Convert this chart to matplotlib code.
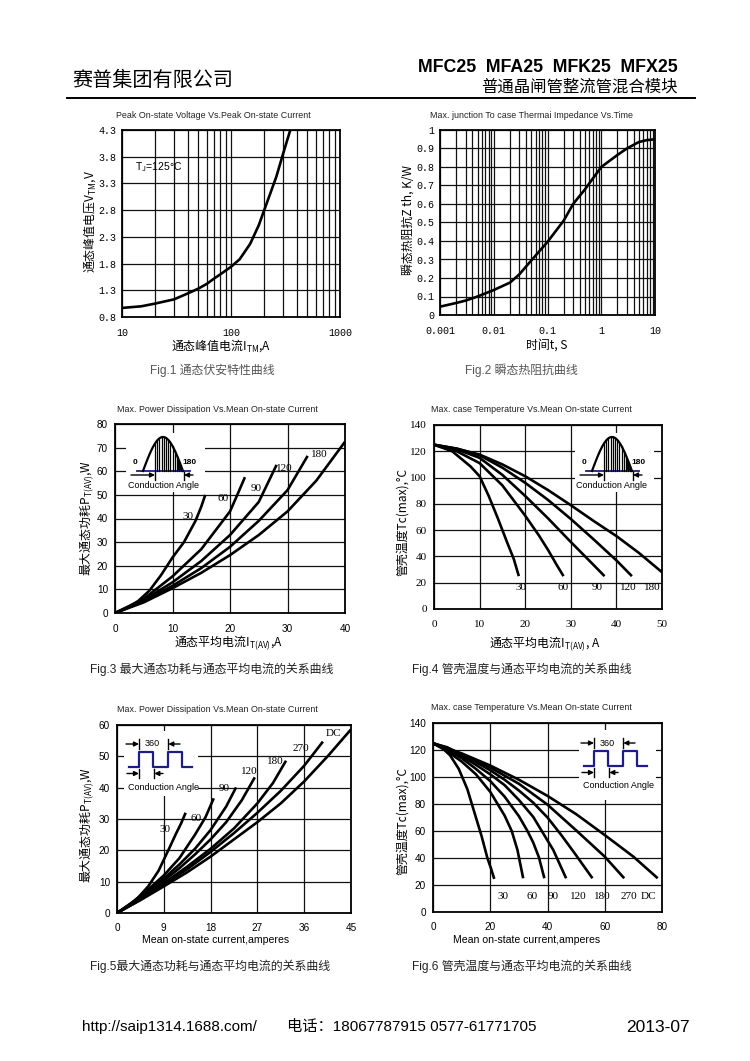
import numpy as np
import matplotlib
matplotlib.use("Agg")
import matplotlib.pyplot as plt
from matplotlib.patches import Rectangle
from matplotlib.ticker import NullFormatter

plt.rcParams["font.family"] = ["Liberation Sans", "Noto Sans CJK SC", "DejaVu Sans"]
# mathtext does not fall back between fonts, so labels mixing Chinese and
# subscripts are set entirely in the CJK face
plt.rcParams["mathtext.fontset"] = "custom"
plt.rcParams["mathtext.rm"] = "Noto Sans CJK SC"
plt.rcParams["mathtext.it"] = "Noto Sans CJK SC"
plt.rcParams["mathtext.bf"] = "Noto Sans CJK SC:bold"

W, H = 750, 1061
CJK = ["Noto Sans CJK SC", "DejaVu Sans"]
NARROW = ["Liberation Sans Narrow", "Liberation Sans"]
MONO = ["Liberation Mono", "DejaVu Sans Mono"]
SERIF = ["Liberation Serif", "DejaVu Serif"]

# ---- Fig.1 peak on-state voltage vs peak on-state current ----
f1_current = [10, 15, 20, 30, 40, 50, 60, 70, 80, 100, 120, 150, 180, 200, 230, 260, 300, 350]
f1_voltage = [0.97, 1.0, 1.05, 1.13, 1.24, 1.33, 1.42, 1.52, 1.6, 1.74, 1.88, 2.17, 2.52,
              2.78, 3.12, 3.42, 3.85, 4.3]

# ---- Fig.2 transient thermal impedance ----
f2_time = [0.001, 0.002, 0.003, 0.005, 0.01, 0.02, 0.03, 0.05, 0.1, 0.2, 0.3, 0.5, 1, 2, 3, 5, 7, 10]
f2_zth = [0.045, 0.065, 0.078, 0.1, 0.135, 0.175, 0.22, 0.295, 0.395, 0.51, 0.6, 0.68, 0.8,
          0.865, 0.9, 0.935, 0.945, 0.95]

# ---- Fig.3 power dissipation, sine ----
f3_angles = ["30", "60", "90", "120", "180"]
f3_x = [
    [0, 2, 4, 6, 8, 10, 12, 13, 14, 15, 15.7],
    [0, 5, 10, 15, 20, 21, 22.6],
    [0, 5, 10, 15, 20, 25, 28.1],
    [0, 5, 10, 15, 20, 25, 30, 33.5],
    [0, 5, 10, 15, 20, 25, 30, 35, 40],
]
f3_y = [
    [0, 2, 5, 9.5, 16, 23.5, 30, 34.5, 39, 45, 50],
    [0, 6, 15.5, 27, 43, 48.5, 57.5],
    [0, 5.5, 13, 22, 33, 47, 62.7],
    [0, 5, 11.5, 19, 28, 39, 52, 66.5],
    [0, 4.5, 10.5, 17, 24.5, 33, 43, 56, 72.5],
]

# ---- Fig.4 case temperature, sine ----
f4_angles = ["30", "60", "90", "120", "180"]
f4_x = [
    [0, 4, 8, 10, 12, 14, 16, 17.5, 18.6],
    [0, 5, 10, 15, 20, 23, 25, 27, 28.4],
    [0, 5, 10, 15, 20, 25, 30, 34, 37.4],
    [0, 5, 10, 15, 20, 25, 30, 35, 40, 43.4],
    [0, 5, 10, 15, 20, 25, 30, 35, 40, 45, 50],
]
f4_y = [
    [125, 120, 108.5, 101, 86, 69, 51, 38, 25],
    [125, 120, 111, 94, 71, 56, 45, 33, 25],
    [125, 121.5, 115, 102, 86, 69, 51, 37, 25],
    [125, 122, 117, 107.5, 96, 83, 68.5, 53, 37, 25],
    [125, 122, 117.5, 110, 101, 90.5, 79, 67, 55.5, 42.5, 28],
]

# ---- Fig.5 power dissipation, rectangular ----
f5_angles = ["30", "60", "90", "120", "180", "270", "DC"]
f5_x = [
    [0, 2, 4, 6, 8, 9, 10, 11.4, 12.3, 13.2],
    [0, 3, 6, 9, 12, 15, 17, 18.6],
    [0, 3, 6, 9, 12, 15, 18, 21, 22.9],
    [0, 3, 6, 9, 12, 15, 18, 21, 24, 26.5],
    [0, 4.5, 9, 13.5, 18, 22.5, 27, 30, 32.5],
    [0, 4.5, 9, 13.5, 18, 22.5, 27, 31.5, 36, 39.6],
    [0, 4.5, 9, 13.5, 18, 22.5, 27, 31.5, 36, 40.5, 45],
]
f5_y = [
    [0, 2, 4.8, 8.5, 13.5, 17, 20.5, 25.5, 28.5, 32],
    [0, 3.5, 7.5, 12, 17.5, 25, 30.5, 36.6],
    [0, 3.3, 7, 11, 15.5, 20.5, 26.5, 34, 40.1],
    [0, 3.2, 6.6, 10.3, 14.3, 18.7, 23.5, 29, 36, 43.3],
    [0, 4.5, 9.5, 14.8, 20.5, 27, 35, 41.5, 48.6],
    [0, 4.3, 9, 14, 19.5, 25.5, 32, 39, 47, 54.7],
    [0, 4.1, 8.5, 13, 18, 23.5, 29, 35, 42, 50, 58.6],
]

# ---- Fig.6 case temperature, rectangular ----
f6_angles = ["30", "60", "90", "120", "180", "270", "DC"]
f6_x = [
    [0, 3, 6, 9, 12, 15, 17, 19, 20.3, 21.4],
    [0, 5, 10, 15, 20, 25, 27.5, 29.5, 31.5],
    [0, 5, 10, 15, 20, 25, 30, 33, 35, 37, 38.9],
    [0, 5, 10, 15, 20, 25, 30, 35, 38, 42, 46.5],
    [0, 5, 10, 15, 20, 25, 30, 35, 40, 45, 50, 55.7],
    [0, 10, 20, 30, 40, 50, 60, 66.8],
    [0, 10, 20, 30, 40, 50, 60, 70, 78.5],
]
f6_y = [
    [125, 122, 116, 106, 91, 70, 56, 40, 32, 24.5],
    [125, 119, 111.5, 102, 89, 71.5, 60, 46, 25],
    [125, 120, 114, 106, 97, 85.5, 71, 60, 51.5, 40.5, 25],
    [125, 121, 115.5, 109, 102, 94, 83, 70.5, 60, 46, 25],
    [125, 122, 116.5, 111, 105, 98, 90, 81, 70, 56.5, 42, 25],
    [125, 117, 107, 95, 79.5, 60.5, 41, 25],
    [125, 117.5, 108.5, 98, 86, 72.5, 57, 41, 25],
]

fig = plt.figure(figsize=(W / 100, H / 100), dpi=100)


def ftext(x, y, s, **kw):
    fig.text(x / W, 1 - y / H, s, **kw)


def chart(l, t, r, b, tickfont, title, tx, ty, ticksize=7.2):
    ax = fig.add_axes([l / W, 1 - b / H, (r - l) / W, (b - t) / H])
    ax.set_axisbelow(True)
    for s in ax.spines.values():
        s.set_linewidth(1.3)
        s.set_color("black")
    ax.tick_params(which="both", length=0, labelsize=ticksize, labelfontfamily=tickfont)
    ax.grid(True, which="major", color="#111111", lw=0.9)
    ftext(tx, ty, title, ha="center", va="center", fontsize=6.4, family=NARROW, color="#222222")
    return ax


curve = dict(color="black", lw=1.9, solid_capstyle="butt")
lab_kw = dict(ha="center", va="center", fontsize=8.6, family=CJK)

# Fig.1
ax1 = chart(122, 130, 340, 317, MONO, "Peak On-state Voltage Vs.Peak On-state Current", 213, 116)
ax1.set_xscale("log")
ax1.set_xlim(10, 1000)
ax1.set_ylim(0.8, 4.3)
ax1.set_yticks(np.arange(0.8, 4.31, 0.5))
ax1.set_yticklabels([f"{v:.1f}" for v in np.arange(0.8, 4.31, 0.5)])
ax1.set_xticks([10, 100, 1000], ["10", "100", "1000"])
ax1.xaxis.set_minor_formatter(NullFormatter())
ax1.grid(True, which="minor", color="#111111", lw=0.9)
ax1.tick_params(axis="x", pad=8)
ax1.tick_params(axis="y", pad=4)
ax1.plot(f1_current, f1_voltage, **curve)
ax1.text(0.06, 0.8, r"T$_{J}$=125°C", transform=ax1.transAxes, fontsize=7.5, va="center")
ftext(221, 346, r"通态峰值电流I$_{\mathbf{TM}}$,A", **lab_kw)
ftext(90, 222, r"通态峰值电压V$_{\mathbf{TM}}$,V", rotation=90, **lab_kw)
ftext(150, 370, "Fig.1 通态伏安特性曲线", ha="left", va="center", fontsize=8.6, color="#555555")

# Fig.2
ax2 = chart(440, 130, 655, 315, MONO, "Max. junction To case Thermai Impedance Vs.Time", 531, 116)
ax2.set_xscale("log")
ax2.set_xlim(0.001, 10)
ax2.set_ylim(0, 1)
yt = np.arange(0, 1.01, 0.1)
ax2.set_yticks(yt, ["0"] + [f"{v:.1f}" for v in yt[1:-1]] + ["1"])
ax2.set_xticks([0.001, 0.01, 0.1, 1, 10], ["0.001", "0.01", "0.1", "1", "10"])
ax2.xaxis.set_minor_formatter(NullFormatter())
ax2.grid(True, which="minor", color="#111111", lw=0.9)
ax2.tick_params(axis="x", pad=8)
ax2.tick_params(axis="y", pad=4)
ax2.plot(f2_time, f2_zth, **curve)
ftext(547, 345, "时间t, S", **lab_kw)
ftext(408, 220, "瞬态热阻抗Z th, K/W", rotation=90, **lab_kw)
ftext(465, 370, "Fig.2 瞬态热阻抗曲线", ha="left", va="center", fontsize=8.6, color="#555555")

# Fig.3
ax3 = chart(115, 424, 345, 613, ["Liberation Sans"], "Max. Power Dissipation Vs.Mean On-state Current", 217, 410)
ax3.set_xlim(0, 40)
ax3.set_ylim(0, 80)
ax3.set_xticks(np.arange(0, 41, 10))
ax3.set_yticks(np.arange(0, 81, 10))
ax3.tick_params(axis="x", pad=8)
ax3.tick_params(axis="y", pad=5)
for xs, ys in zip(f3_x, f3_y):
    ax3.plot(xs, ys, **curve)
for lab, (lx, ly) in zip(f3_angles, [(12.75, 40.8), (18.8, 48.6), (24.6, 52.8), (29.5, 61), (35.6, 67)]):
    ax3.text(lx, ly, lab, fontsize=8, family=SERIF, ha="center", va="center")
ftext(228, 643, r"通态平均电流I$_{\mathbf{T(AV)}}$,A", **lab_kw)
ftext(87, 518, r"最大通态功耗P$_{\mathbf{T(AV)}}$,W", rotation=90, **lab_kw)
ftext(90, 669, "Fig.3 最大通态功耗与通态平均电流的关系曲线", ha="left", va="center", fontsize=8.6, color="#222222")

# Fig.4
ax4 = chart(434, 425, 662, 609, SERIF, "Max. case Temperature Vs.Mean On-state Current", 531, 410, ticksize=8)
ax4.set_xlim(0, 50)
ax4.set_ylim(0, 140)
ax4.set_xticks(np.arange(0, 51, 10))
ax4.set_yticks(np.arange(0, 141, 20))
ax4.tick_params(axis="x", pad=8)
ax4.tick_params(axis="y", pad=5)
for xs, ys in zip(f4_x, f4_y):
    ax4.plot(xs, ys, **curve)
for lab, lx in zip(f4_angles, [19, 28.2, 35.7, 42.7, 47.8]):
    ax4.text(lx, 16, lab, fontsize=8, family=SERIF, ha="center", va="center")
ftext(545, 644, r"通态平均电流I$_{\mathbf{T(AV)}}$, A", **lab_kw)
ftext(402, 522, "管壳温度Tc(max),°C", rotation=90, **lab_kw)
ftext(412, 669, "Fig.4 管壳温度与通态平均电流的关系曲线", ha="left", va="center", fontsize=8.6, color="#222222")

# Fig.5
ax5 = chart(117, 725, 351, 913, ["Liberation Sans"], "Max. Power Dissipation Vs.Mean On-state Current", 217, 710)
ax5.set_xlim(0, 45)
ax5.set_ylim(0, 60)
ax5.set_xticks(np.arange(0, 46, 9))
ax5.set_yticks(np.arange(0, 61, 10))
ax5.tick_params(axis="x", pad=7)
ax5.tick_params(axis="y", pad=5)
for xs, ys in zip(f5_x, f5_y):
    ax5.plot(xs, ys, **curve)
for lab, (lx, ly) in zip(f5_angles, [(9.2, 26.5), (15.2, 30.3), (20.6, 39.7), (25.5, 45),
                                     (30.4, 48.3), (35.3, 52.6), (41.6, 57.3)]):
    ax5.text(lx, ly, lab, fontsize=8, family=SERIF, ha="center", va="center")
ftext(216, 940, "Mean on-state current,amperes", ha="center", va="center", fontsize=7.6)
ftext(87, 825, r"最大通态功耗P$_{\mathbf{T(AV)}}$,W", rotation=90, **lab_kw)
ftext(90, 966, "Fig.5最大通态功耗与通态平均电流的关系曲线", ha="left", va="center", fontsize=8.6, color="#222222")

# Fig.6
ax6 = chart(433, 723, 662, 912, ["Liberation Sans"], "Max. case Temperature Vs.Mean On-state Current", 531, 707)
ax6.set_xlim(0, 80)
ax6.set_ylim(0, 140)
ax6.set_xticks(np.arange(0, 81, 20))
ax6.set_yticks(np.arange(0, 141, 20))
ax6.tick_params(axis="x", pad=7)
ax6.tick_params(axis="y", pad=5)
for xs, ys in zip(f6_x, f6_y):
    ax6.plot(xs, ys, **curve)
for lab, lx in zip(f6_angles, [24.5, 34.5, 42, 50.6, 59, 68.3, 75.4]):
    ax6.text(lx, 11.6, lab, fontsize=8, family=SERIF, ha="center", va="center")
ftext(527, 940, "Mean on-state current,amperes", ha="center", va="center", fontsize=7.6)
ftext(402, 821, "管壳温度Tc(max),°C", rotation=90, **lab_kw)
ftext(412, 966, "Fig.6 管壳温度与通态平均电流的关系曲线", ha="left", va="center", fontsize=8.6, color="#222222")

# overlay in page pixels for header, footer and the waveform sketches
ov = fig.add_axes([0, 0, 1, 1], zorder=10)
ov.set_xlim(0, W)
ov.set_ylim(H, 0)
ov.axis("off")
ov.patch.set_alpha(0)

BLUE = "#1c1c8a"


def arrow(x_from, x_to, y):
    ov.annotate("", xy=(x_to, y), xytext=(x_from, y),
                arrowprops=dict(arrowstyle="-|>", color="black", lw=1, mutation_scale=7,
                                shrinkA=0, shrinkB=0))


def sine_inset(x0, y0):
    ov.add_patch(Rectangle((x0 - 17, y0 - 38), 79, 59, facecolor="white", edgecolor="none"))
    ov.plot([x0 - 6, x0 + 47], [y0, y0], color=BLUE, lw=1.3)
    t = np.linspace(0, 1, 60)
    ov.plot(x0 + 40 * t, y0 - 34 * np.sin(np.pi * t), color="black", lw=1.6)
    for xs in np.arange(x0 + 12, x0 + 40, 2.2):
        h = 34 * np.sin(np.pi * (xs - x0) / 40)
        ov.plot([xs, xs], [y0, y0 - h], color="black", lw=0.9)
    tt = np.linspace(0.85, 1, 15)
    ov.fill_between(x0 + 40 * tt, y0, y0 - 34 * np.sin(np.pi * tt), color="black", lw=0)
    ov.text(x0 - 8, y0 - 8, "0", fontsize=6, fontweight="bold", ha="center", va="center")
    ov.text(x0 + 46, y0 - 8, "180", fontsize=6, fontweight="bold", ha="center", va="center")
    arrow(x0 - 12, x0 + 12, y0 + 4)
    arrow(x0 + 50, x0 + 41, y0 + 4)
    ov.plot([x0 + 12, x0 + 12], [y0 + 1, y0 + 9], color="black", lw=1)
    ov.plot([x0 + 41, x0 + 41], [y0 + 1, y0 + 9], color="black", lw=1)
    ov.text(x0 + 20, y0 + 14, "Conduction Angle", fontsize=6.5, ha="center", va="center")


def square_inset(x0, y0, bw, bh):
    ov.add_patch(Rectangle((x0 - 5, y0 - 36), bw, bh, facecolor="white", edgecolor="none"))
    sx = [0, 10, 10, 24.3, 24.3, 39.3, 39.3, 53.3, 53.3, 63.3]
    sy = [0, 0, -15, -15, 0, 0, -15, -15, 0, 0]
    ov.plot([x0 + v for v in sx], [y0 + v for v in sy], color=BLUE, lw=1.6)
    arrow(x0 - 3, x0 + 10, y0 - 23)
    arrow(x0 + 51, x0 + 39.3, y0 - 23)
    ov.plot([x0 + 10, x0 + 10], [y0 - 28, y0 - 18], color="black", lw=1)
    ov.plot([x0 + 39.3, x0 + 39.3], [y0 - 28, y0 - 18], color="black", lw=1)
    ov.text(x0 + 23.5, y0 - 23, "360", fontsize=6.5, ha="center", va="center")
    arrow(x0 - 2, x0 + 10, y0 + 6.5)
    arrow(x0 + 34, x0 + 25.3, y0 + 6.5)
    ov.plot([x0 + 10, x0 + 10], [y0 + 2, y0 + 11], color="black", lw=1)
    ov.plot([x0 + 25.3, x0 + 25.3], [y0 + 2, y0 + 11], color="black", lw=1)
    ov.text(x0 + 34.3, y0 + 20, "Conduction Angle", fontsize=6.5, ha="center", va="center")


sine_inset(143, 471)
sine_inset(592, 471)
square_inset(129, 767, 74, 65)
square_inset(584, 766, 77, 70)

# header
ov.text(72, 80, "赛普集团有限公司", fontsize=14.5, family=CJK, ha="left", va="center")
ov.text(678, 68, "MFC25  MFA25  MFK25  MFX25", fontsize=12.8, fontweight="bold", ha="right", va="center")
ov.text(678, 87, "普通晶闸管整流管混合模块", fontsize=11.8, family=CJK, ha="right", va="center")
ov.plot([67, 695], [98, 98], color="black", lw=1.4)

# footer
ov.text(82, 1027, "http://saip1314.1688.com/", fontsize=11, ha="left", va="center")
ov.text(287, 1027, "电话：18067787915 0577-61771705", fontsize=11, family=["Liberation Sans", "Noto Sans CJK SC"],
        ha="left", va="center")
ov.text(690, 1027, "2013-07", fontsize=12.5, ha="right", va="center")

fig.savefig("out.png", dpi=100)
